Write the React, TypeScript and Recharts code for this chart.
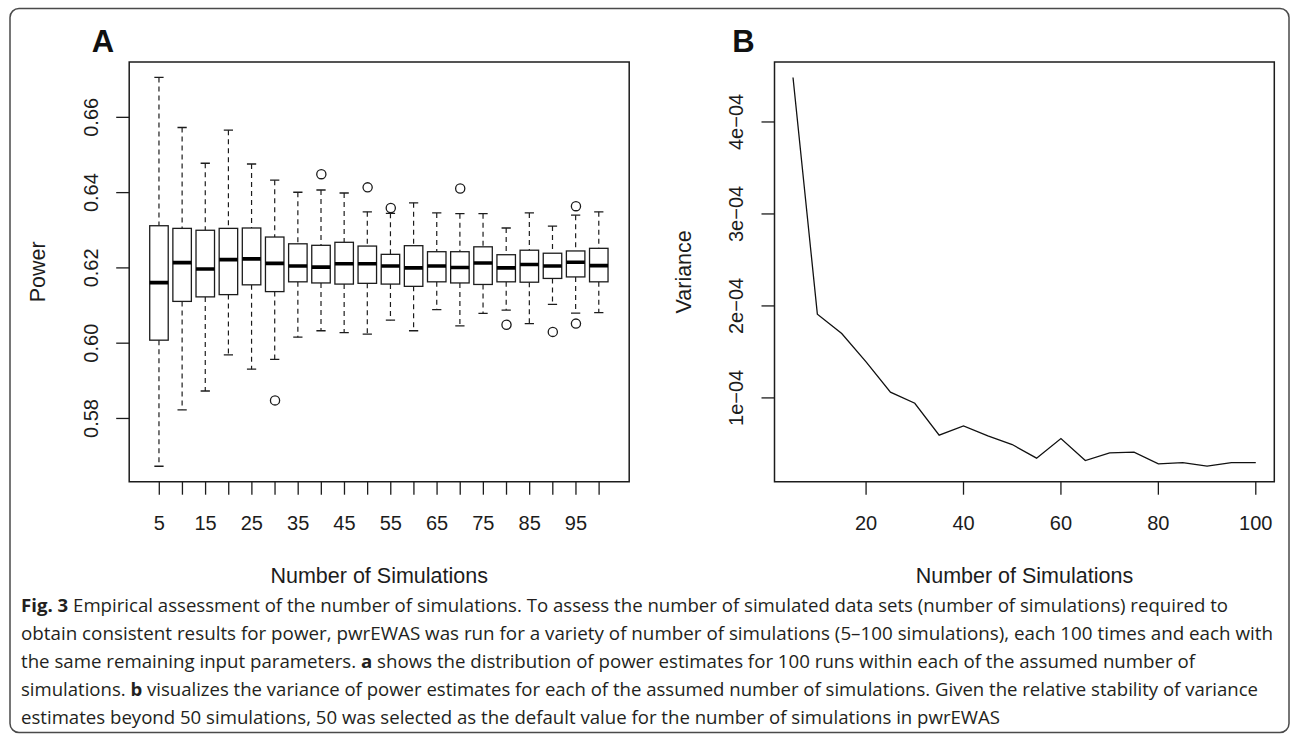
import React from 'react';
import {
  ComposedChart,
  LineChart,
  Bar,
  Scatter,
  Line,
  XAxis,
  YAxis,
  ReferenceArea,
  Label
} from 'recharts';

// ---- panel A: power per run, 20 groups of simulations ----
const simCounts = [5, 10, 15, 20, 25, 30, 35, 40, 45, 50, 55, 60, 65, 70, 75, 80, 85, 90, 95, 100];
const whiskerLow = [0.5673, 0.5823, 0.5873, 0.5969, 0.5931, 0.5957, 0.6016, 0.6033, 0.6028, 0.6024, 0.6061, 0.6033, 0.6089, 0.6046, 0.6079, 0.6088, 0.6052, 0.6103, 0.608, 0.6081];
const boxLow = [0.6008, 0.6111, 0.6123, 0.6129, 0.6155, 0.6137, 0.6163, 0.616, 0.6157, 0.6159, 0.6157, 0.6151, 0.6163, 0.616, 0.6156, 0.6163, 0.6162, 0.6172, 0.6176, 0.6163];
const medians = [0.6161, 0.6214, 0.6197, 0.6222, 0.6224, 0.6212, 0.6205, 0.6202, 0.6211, 0.6211, 0.6205, 0.62, 0.6205, 0.6201, 0.6213, 0.62, 0.6209, 0.6205, 0.6215, 0.6206];
const boxHigh = [0.6312, 0.6305, 0.63, 0.6305, 0.6306, 0.6282, 0.6264, 0.626, 0.6268, 0.6258, 0.6236, 0.6259, 0.6243, 0.6243, 0.6256, 0.6235, 0.6247, 0.6239, 0.6245, 0.6252];
const whiskerHigh = [0.6706, 0.6573, 0.6478, 0.6566, 0.6476, 0.6433, 0.6401, 0.6407, 0.6399, 0.6349, 0.6345, 0.6373, 0.6346, 0.6344, 0.6344, 0.6306, 0.6346, 0.6311, 0.634, 0.6349];
const outlierSims = [30, 40, 50, 55, 70, 80, 90, 95, 95];
const outlierPower = [0.5848, 0.6449, 0.6414, 0.6359, 0.6411, 0.6049, 0.603, 0.6364, 0.6052];
const powerTicks = [0.58, 0.6, 0.62, 0.64, 0.66];

// ---- panel B: variance of the power estimates ----
const varianceValues = [4.483e-4, 1.91e-4, 1.7e-4, 1.391e-4, 1.062e-4, 0.942e-4, 0.595e-4, 0.696e-4, 0.587e-4, 0.493e-4, 0.345e-4, 0.558e-4, 0.319e-4, 0.402e-4, 0.41e-4, 0.283e-4, 0.297e-4, 0.258e-4, 0.297e-4, 0.297e-4];
const varianceTicks = [1e-4, 2e-4, 3e-4, 4e-4];
const simTicksB = [20, 40, 60, 80, 100];

const captionLines = [
  [['Fig. 3', true], [' Empirical assessment of the number of simulations. To assess the number of simulated data sets (number of simulations) required to', false]],
  [['obtain consistent results for power, pwrEWAS was run for a variety of number of simulations (5\u2013100 simulations), each 100 times and each with', false]],
  [['the same remaining input parameters. ', false], ['a', true], [' shows the distribution of power estimates for 100 runs within each of the assumed number of', false]],
  [['simulations. ', false], ['b', true], [' visualizes the variance of power estimates for each of the assumed number of simulations. Given the relative stability of variance', false]],
  [['estimates beyond 50 simulations, 50 was selected as the default value for the number of simulations in pwrEWAS', false]]
] as [string, boolean][][];
// right end of each caption line
const captionEnds = [1228, 1273, 1195, 1258, 1000];

const boxData = simCounts.map((sims, i) => ({
  pos: i + 1,
  sims,
  whiskerLow: whiskerLow[i],
  boxLow: boxLow[i],
  median: medians[i],
  boxHigh: boxHigh[i],
  whiskerHigh: whiskerHigh[i]
}));

const outlierData = outlierSims.map((s, i) => ({
  pos: simCounts.indexOf(s) + 1,
  power: outlierPower[i]
}));

const varianceData = simCounts.map((sims, i) => ({ sims, variance: varianceValues[i] }));

const INK = '#1c1c1c';
const FONT = "'Liberation Sans', Arial, Helvetica, sans-serif";

// whole box + whiskers drawn from the bar's [whiskerLow, whiskerHigh] extent
const BoxShape = (props: any) => {
  const { x, y, width, height, payload } = props;
  const lo = payload.whiskerLow;
  const hi = payload.whiskerHigh;
  const toY = (v: number) => y + (height * (hi - v)) / (hi - lo);
  const cx = x + width / 2;
  const cap = width / 4;
  return (
    <g>
      <line x1={cx} x2={cx} y1={toY(hi)} y2={toY(payload.boxHigh)} stroke={INK} strokeWidth={1.2} strokeDasharray="5 4" />
      <line x1={cx} x2={cx} y1={toY(payload.boxLow)} y2={toY(lo)} stroke={INK} strokeWidth={1.2} strokeDasharray="5 4" />
      <line x1={cx - cap} x2={cx + cap} y1={toY(hi)} y2={toY(hi)} stroke={INK} strokeWidth={1.3} />
      <line x1={cx - cap} x2={cx + cap} y1={toY(lo)} y2={toY(lo)} stroke={INK} strokeWidth={1.3} />
      <rect
        x={x}
        y={toY(payload.boxHigh)}
        width={width}
        height={toY(payload.boxLow) - toY(payload.boxHigh)}
        fill="#fff"
        stroke={INK}
        strokeWidth={1.3}
      />
      <line x1={x} x2={x + width} y1={toY(payload.median)} y2={toY(payload.median)} stroke="#000" strokeWidth={3.6} />
    </g>
  );
};

const OutlierShape = (props: any) => (
  <circle cx={props.cx} cy={props.cy} r={4.6} fill="none" stroke={INK} strokeWidth={1.3} />
);

const GroupTick = (props: any) => {
  const { x, y, payload } = props;
  const i = payload.value;
  if (i % 2 === 0) return <g />;
  return (
    <text x={x} y={y} dy={33} textAnchor="middle" fontSize={20} fontFamily={FONT} fill={INK}>
      {simCounts[i - 1]}
    </text>
  );
};

const PlainXTick = (props: any) => {
  const { x, y, payload } = props;
  return (
    <text x={x} y={y} dy={33} textAnchor="middle" fontSize={20} fontFamily={FONT} fill={INK}>
      {payload.value}
    </text>
  );
};

const rotatedTick = (fmt: (v: number) => string) => (props: any) => {
  const { x, y, payload } = props;
  return (
    <text
      transform={`translate(${x - 16.5},${y}) rotate(-90)`}
      textAnchor="middle"
      fontSize={20}
      fontFamily={FONT}
      fill={INK}
    >
      {fmt(payload.value)}
    </text>
  );
};

const yTitle = (text: string) => (props: any) => {
  const { x, y, width, height } = props.viewBox;
  return (
    <text
      transform={`translate(${x + width - 84},${y + height / 2}) rotate(-90)`}
      textAnchor="middle"
      fontSize={21.5}
      fontFamily={FONT}
      fill={INK}
    >
      {text}
    </text>
  );
};

const xTitle = (text: string) => (props: any) => {
  const { x, y, width } = props.viewBox;
  return (
    <text x={x + width / 2} y={y + 101} textAnchor="middle" fontSize={21.5} fontFamily={FONT} fill={INK}>
      {text}
    </text>
  );
};

const powerDomain = [0.5632, 0.6747];
const posDomain = [-0.3, 21.3];
const varDomain = [0.089e-4, 4.652e-4];
const simDomain = [1.2, 103.8];

const PowerBoxplot = () => (
  <ComposedChart
    width={660}
    height={600}
    data={boxData}
    margin={{ top: 62, right: 30.8, bottom: 58.3, left: 69.2 }}
  >
    <XAxis
      dataKey="pos"
      type="number"
      domain={posDomain}
      ticks={boxData.map((d) => d.pos)}
      allowDataOverflow
      axisLine={false}
      tickSize={13}
      tickLine={{ stroke: INK, strokeWidth: 1.3 }}
      tick={GroupTick}
      height={60}
      interval={0}
    >
      <Label content={xTitle('Number of Simulations')} />
    </XAxis>
    <YAxis
      type="number"
      domain={powerDomain}
      ticks={powerTicks}
      allowDataOverflow
      axisLine={false}
      tickSize={13}
      tickLine={{ stroke: INK, strokeWidth: 1.3 }}
      tick={rotatedTick((v) => v.toFixed(2))}
      width={60}
      interval={0}
    >
      <Label content={yTitle('Power')} />
    </YAxis>
    <ReferenceArea
      x1={posDomain[0]}
      x2={posDomain[1]}
      y1={powerDomain[0]}
      y2={powerDomain[1]}
      fill="none"
      stroke={INK}
      strokeWidth={1.5}
      fillOpacity={0}
      strokeOpacity={1}
      ifOverflow="visible"
    />
    <Bar
      dataKey={(d: any) => [d.whiskerLow, d.whiskerHigh]}
      barSize={18.5}
      shape={BoxShape}
      isAnimationActive={false}
    />
    <Scatter data={outlierData} dataKey="power" shape={OutlierShape} isAnimationActive={false} />
  </ComposedChart>
);

const VarianceChart = () => (
  <LineChart
    width={653}
    height={600}
    data={varianceData}
    margin={{ top: 62, right: 18.7, bottom: 58.3, left: 74.5 }}
  >
    <XAxis
      dataKey="sims"
      type="number"
      domain={simDomain}
      ticks={simTicksB}
      allowDataOverflow
      axisLine={false}
      tickSize={13}
      tickLine={{ stroke: INK, strokeWidth: 1.3 }}
      tick={PlainXTick}
      height={60}
      interval={0}
    >
      <Label content={xTitle('Number of Simulations')} />
    </XAxis>
    <YAxis
      type="number"
      domain={varDomain}
      ticks={varianceTicks}
      allowDataOverflow
      axisLine={false}
      tickSize={13}
      tickLine={{ stroke: INK, strokeWidth: 1.3 }}
      tick={rotatedTick((v) => `${Math.round(v * 1e4)}e\u221204`)}
      width={60}
      interval={0}
    >
      <Label content={yTitle('Variance')} />
    </YAxis>
    <ReferenceArea
      x1={simDomain[0]}
      x2={simDomain[1]}
      y1={varDomain[0]}
      y2={varDomain[1]}
      fill="none"
      stroke={INK}
      strokeWidth={1.5}
      fillOpacity={0}
      strokeOpacity={1}
      ifOverflow="visible"
    />
    <Line
      type="linear"
      dataKey="variance"
      stroke="#111"
      strokeWidth={1.3}
      dot={false}
      isAnimationActive={false}
    />
  </LineChart>
);

export default function App() {
  return (
    <div style={{ position: 'absolute', left: 0, top: 0, width: 1293, height: 734, background: '#fff', overflow: 'hidden' }}>
      <svg width={1293} height={734} style={{ position: 'absolute', left: 0, top: 0 }}>
        <rect x={10} y={8.5} width={1279} height={724} rx={9} fill="none" stroke="#4a4a4a" strokeWidth={1.5} />
        <text x={103} y={51.7} textAnchor="middle" fontSize={31} fontWeight={700} fontFamily={FONT} fill="#111">A</text>
        <text x={743.5} y={51.7} textAnchor="middle" fontSize={31} fontWeight={700} fontFamily={FONT} fill="#111">B</text>
        {captionLines.map((parts, li) => (
          <text
            key={li}
            x={21}
            y={612 + li * 28}
            fontSize={18.6}
            textLength={captionEnds[li] - 21}
            lengthAdjust="spacingAndGlyphs"
            fontFamily="'Open Sans', 'Noto Sans', sans-serif"
            fill="#231f20"
          >
            {parts.map(([t, bold], pi) => (
              <tspan key={pi} fontWeight={bold ? 700 : 400}>{t}</tspan>
            ))}
          </text>
        ))}
      </svg>
      <div style={{ position: 'absolute', left: 0, top: 0 }}>
        <PowerBoxplot />
      </div>
      <div style={{ position: 'absolute', left: 640, top: 0 }}>
        <VarianceChart />
      </div>
    </div>
  );
}
